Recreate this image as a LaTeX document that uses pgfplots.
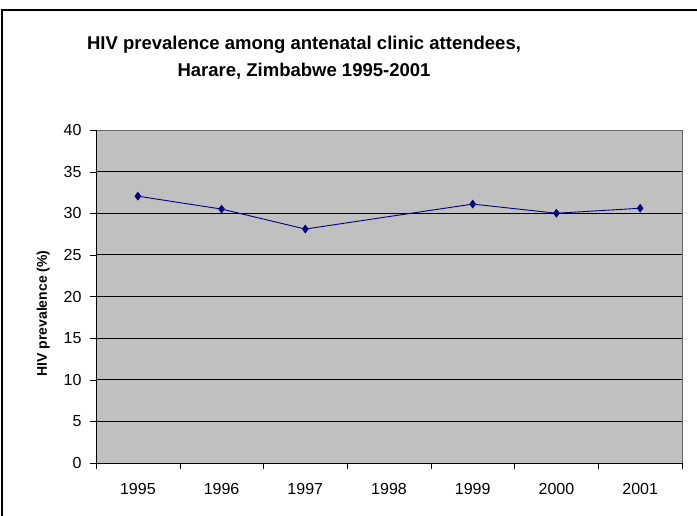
\documentclass[border=0pt]{standalone}
\usepackage{pgfplots}
\pgfplotsset{compat=1.18}
\usepackage{fontspec}
\setmainfont{Liberation Sans}
\definecolor{silverbg}{HTML}{C0C0C0}
\definecolor{navy}{HTML}{000080}
\begin{document}
\begin{tikzpicture}[x=1bp,y=1bp]
\useasboundingbox (0,0) rectangle (697,516);
\draw[line width=1.2bp] (2,-20) -- (2,506) -- (720,506);
\node[font=\fontsize{18.5bp}{22bp}\selectfont\bfseries, align=center] at (304,458) {HIV prevalence among antenatal clinic attendees,\\[5bp]Harare, Zimbabwe 1995-2001};
\begin{axis}[
  at={(96bp,53bp)}, anchor=south west,
  scale only axis, width=586bp, height=333bp,
  xmin=-0.5, xmax=6.5, ymin=0, ymax=40,
  axis background/.style={fill=silverbg, draw=gray!80!black},
  axis x line*=bottom, axis y line*=left,
  axis line style={-, black},
  tick align=outside,
  xtick={0,1,2,3,4,5,6},
  xticklabels={1995,1996,1997,1998,1999,2000,2001},
  major x tick style={draw=none},
  minor xtick={-0.5,0.5,...,6.5},
  minor tick length=6bp,
  minor x tick style={black},
  ytick={0,5,...,40},
  major tick length=6bp,
  major y tick style={black},
  extra y ticks={5,10,...,35},
  extra y tick labels={},
  extra y tick style={grid=major, major grid style={black, line width=0.8bp}, major tick length=0},
  ticklabel style={font=\fontsize{16bp}{18bp}\selectfont},
  /pgf/number format/assume math mode=true,
  xticklabel style={yshift=-11bp},
  yticklabel style={xshift=-5bp},
  ylabel={\bfseries HIV prevalence (\%)},
  ylabel style={font=\fontsize{14bp}{16bp}\selectfont, at={(ticklabel cs:0.449)}},
  ylabel shift=1bp,
  clip=false,
]
\addplot[navy, line width=0.9bp, mark=diamond*, mark size=3.7bp, mark options={fill=navy, draw=navy}] coordinates {
(0,32.05) (1,30.5) (2,28.1) (4,31.1) (5,30.0) (6,30.6)
};
\end{axis}
\end{tikzpicture}
\end{document}
